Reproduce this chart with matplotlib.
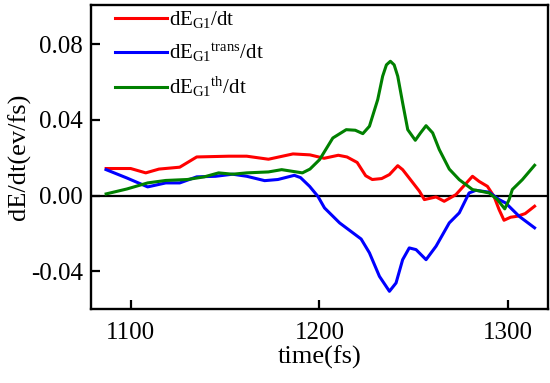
import matplotlib
matplotlib.use("Agg")
import matplotlib.pyplot as plt

plt.rcParams['font.family'] = ['Liberation Serif', 'DejaVu Serif']
plt.rcParams['mathtext.fontset'] = 'custom'
plt.rcParams['mathtext.rm'] = 'Liberation Serif'
plt.rcParams['mathtext.it'] = 'Liberation Serif:italic'

red_t = [1087, 1100, 1108, 1115, 1126, 1135, 1152, 1161.5, 1173, 1186, 1195, 1202.5, 1210, 1214.6,
         1220, 1224.5, 1228, 1233, 1237.1, 1241.5, 1244.1, 1247, 1253, 1255.6, 1261.8, 1266.1, 1272.3,
         1281.1, 1284.6, 1289, 1292.5, 1295.2, 1297.8, 1301.3, 1304.8, 1309, 1314]
red_v = [0.0143, 0.0143, 0.012, 0.014, 0.015, 0.0204, 0.0208, 0.0208, 0.0192, 0.022, 0.0215, 0.0197,
         0.0213, 0.0204, 0.0175, 0.0105, 0.0085, 0.009, 0.0111, 0.0158, 0.0137, 0.010, 0.0023, -0.0021,
         -0.0007, -0.003, 0.0005, 0.0102, 0.0075, 0.0049, -0.0004, -0.0074, -0.013, -0.0114, -0.0109,
         -0.0095, -0.0056]

blue_t = [1087, 1098, 1109, 1118.6, 1126, 1135, 1145, 1154, 1161.5, 1171, 1178, 1186.7, 1190, 1194.8,
          1199.2, 1202.7, 1210.7, 1222.1, 1226.5, 1231.8, 1237.1, 1240.6, 1244.1, 1247.6, 1251.2,
          1256.5, 1261.8, 1268.8, 1274.1, 1279.3, 1282.9, 1289.9, 1295.2, 1298.7, 1305.8, 1314]
blue_v = [0.0137, 0.0093, 0.0046, 0.0067, 0.0067, 0.0099, 0.0102, 0.0113, 0.0102, 0.0079, 0.0085,
          0.0107, 0.0095, 0.0049, -0.0004, -0.0065, -0.0144, -0.0229, -0.0302, -0.0426, -0.0505,
          -0.0461, -0.0338, -0.0276, -0.0285, -0.0338, -0.0267, -0.0144, -0.0091, 0.0014, 0.0028,
          0.0018, -0.0021, -0.0039, -0.0109, -0.017]

green_t = [1087, 1098, 1109, 1118.6, 1130, 1139, 1146.6, 1154, 1161.5, 1173, 1180, 1191, 1195, 1200.1,
           1207.1, 1214.2, 1219, 1223, 1226.5, 1230.9, 1233.5, 1235.5, 1237.6, 1239.6, 1241.5, 1244.1,
           1246.8, 1250.8, 1253.5, 1256.5, 1260, 1263.5, 1268.8, 1274.1, 1281.1, 1289.9, 1294.3,
           1298.2, 1300.5, 1302.2, 1307.5, 1314]
green_v = [0.0009, 0.0035, 0.0067, 0.008, 0.0085, 0.0099, 0.012, 0.0113, 0.012, 0.0125, 0.0137, 0.012,
           0.014, 0.019, 0.0304, 0.0348, 0.0345, 0.0327, 0.0366, 0.0507, 0.063, 0.069, 0.0709, 0.069,
           0.063, 0.0489, 0.0348, 0.0292, 0.033, 0.0369, 0.0331, 0.0243, 0.014, 0.0084, 0.0032, 0.0014,
           -0.0021, -0.007, -0.0021, 0.0032, 0.0084, 0.016]

labels = [r'$\mathrm{dE_{G1}/dt}$', r'$\mathrm{dE_{G1}}^{\mathrm{trans}}\mathrm{/dt}$',
          r'$\mathrm{dE_{G1}}^{\mathrm{th}}\mathrm{/dt}$']
xticks = [1100, 1200, 1300]
yticks = [-0.04, 0.00, 0.04, 0.08]

fig = plt.figure(figsize=(5.5, 3.83), dpi=100)
ax = fig.add_axes([0.1655, 0.1924, 0.8305, 0.7946])
ax.axhline(0, color='black', lw=1.6, zorder=1)
ax.plot(red_t, red_v, color='#ff0000', lw=2.2, label=labels[0])
ax.plot(blue_t, blue_v, color='#0000ff', lw=2.2, label=labels[1])
ax.plot(green_t, green_v, color='#008000', lw=2.2, label=labels[2])

ax.set_xlim(1079, 1321)
ax.set_ylim(-0.06, 0.1006)
ax.set_xticks(xticks)
ax.set_yticks(yticks)
ax.set_yticklabels(['%.2f' % v for v in yticks])
ax.tick_params(direction='in', length=6.5, width=1.6, labelsize=18, top=False, right=False, pad=6)
ax.tick_params(axis='x', pad=9)
for s in ax.spines.values():
    s.set_linewidth(1.7)
ax.set_xlabel('time(fs)', fontsize=19, labelpad=1)
ax.set_ylabel('dE/dt(ev/fs)', fontsize=19, labelpad=0)

leg = ax.legend(loc='upper left', bbox_to_anchor=(0.034, 1.014), frameon=False, fontsize=15,
                handlelength=2.5, handletextpad=0.1, labelspacing=0.54, borderaxespad=0)
fig.savefig('out.png', dpi=100)
